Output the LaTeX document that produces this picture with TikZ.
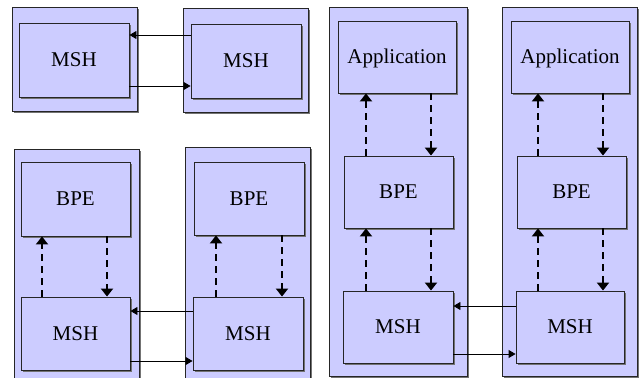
\documentclass[tikz,border=0pt]{standalone}
\usepackage{fontspec}
\setmainfont{Liberation Serif}
\newfontfamily\boxfont{Liberation Serif}
\usetikzlibrary{arrows.meta,fit,shadows}
\definecolor{lav}{RGB}{204,204,255}
\tikzset{
  pane/.style={draw=black!85, line width=0.9pt, fill=lav, inner sep=0pt,
    drop shadow={shadow xshift=1.6pt, shadow yshift=-1.6pt, fill=black!55, opacity=1}},
  caption/.style={font=\boxfont\fontsize{21}{25}\selectfont, text height=13.9pt, text depth=0pt, inner sep=0pt},
  unit/.style={pane, label={[caption]center:#1}},
  msg/.style={line width=0.9pt, -{Triangle[length=7pt,width=8pt]}},
  call/.style={line width=2.5pt, dash pattern=on 7pt off 5pt, -{Triangle[length=8pt,width=12pt]}}
}
\begin{document}
\begin{tikzpicture}[x=1pt,y=-1pt]
\useasboundingbox (0,0) rectangle (639,377);
\clip (0,0) rectangle (639,377);

% two MSH peers
\node[pane, fit={(12,7) (137,111)}] (oA1) {};
\node[pane, fit={(183,8) (308,112)}] (oA2) {};
\node[unit=MSH, fit={(19,23) (129,97)}] (mA1) {};
\node[unit=MSH, fit={(191,24) (301,98)}] (mA2) {};
\draw[msg] (mA2.west |- 0,35) -- (mA1.east |- 0,35);
\draw[msg] (mA1.east |- 0,86) -- (mA2.west |- 0,86);

% BPE over MSH, two nodes
\node[pane, fit={(14,149) (139,390)}] (oB1) {};
\node[pane, fit={(185,147) (310,390)}] (oB2) {};
\node[unit=BPE, fit={(21,162) (130,236)}] (bB1) {};
\node[unit=MSH, fit={(21,297) (130,370)}] (mB1) {};
\node[unit=BPE, fit={(194,162) (304,235)}] (bB2) {};
\node[unit=MSH, fit={(193,297) (303,370)}] (mB2) {};
\draw[call] (mB1.north -| 42,0) -- (bB1.south -| 42,0);
\draw[call] (bB1.south -| 107,0) -- (mB1.north -| 107,0);
\draw[call] (mB2.north -| 216,0) -- (bB2.south -| 216,0);
\draw[call] (bB2.south -| 282,0) -- (mB2.north -| 282,0);
\draw[msg] (mB2.west |- 0,311) -- (mB1.east |- 0,311);
\draw[msg] (mB1.east |- 0,361) -- (mB2.west |- 0,361);

% Application over BPE over MSH, two nodes
\node[pane, fit={(329,7) (467,376)}] (oC1) {};
\node[pane, fit={(502,7) (637,376)}] (oC2) {};
\node[unit=Application, fit={(338,21) (456,93)}] (aC1) {};
\node[unit=BPE, fit={(344,156) (453,228)}] (bC1) {};
\node[unit=MSH, fit={(343,291) (453,363)}] (mC1) {};
\node[unit=Application, fit={(511,21) (629,93)}] (aC2) {};
\node[unit=BPE, fit={(517,156) (626,228)}] (bC2) {};
\node[unit=MSH, fit={(516,291) (624,363)}] (mC2) {};
\draw[call] (bC1.north -| 366,0) -- (aC1.south -| 366,0);
\draw[call] (aC1.south -| 431,0) -- (bC1.north -| 431,0);
\draw[call] (mC1.north -| 366,0) -- (bC1.south -| 366,0);
\draw[call] (bC1.south -| 431,0) -- (mC1.north -| 431,0);
\draw[call] (bC2.north -| 538,0) -- (aC2.south -| 538,0);
\draw[call] (aC2.south -| 603,0) -- (bC2.north -| 603,0);
\draw[call] (mC2.north -| 538,0) -- (bC2.south -| 538,0);
\draw[call] (bC2.south -| 603,0) -- (mC2.north -| 603,0);
\draw[msg] (mC2.west |- 0,306) -- (mC1.east |- 0,306);
\draw[msg] (mC1.east |- 0,354) -- (mC2.west |- 0,354);
\end{tikzpicture}
\end{document}
